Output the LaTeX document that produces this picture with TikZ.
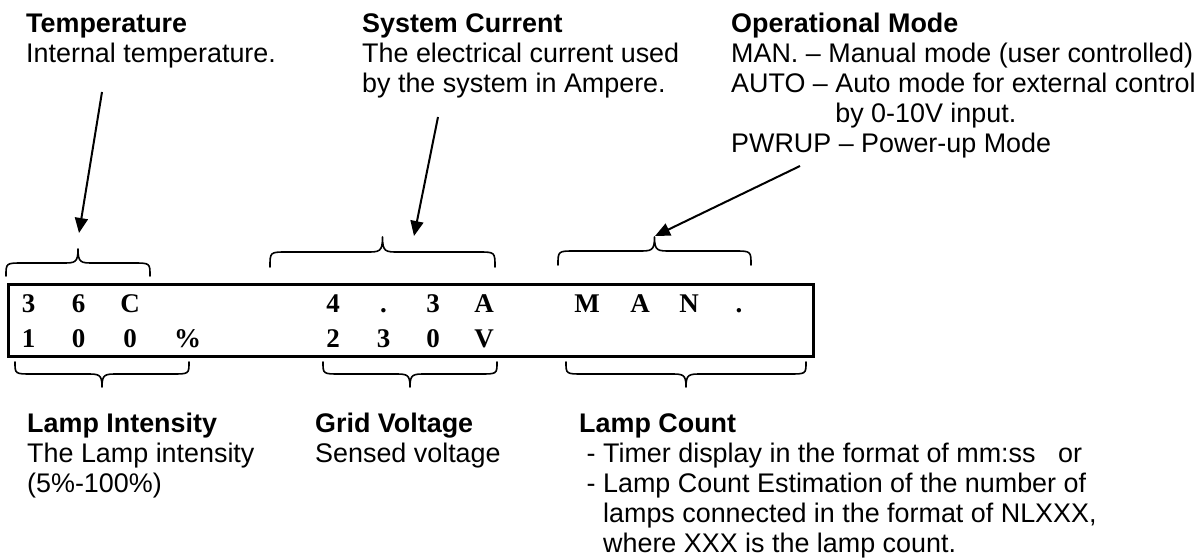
\documentclass[tikz,border=0pt]{standalone}
\usepackage{fontspec}
\setmainfont{Liberation Sans}
\newfontfamily\lcdfont{Liberation Serif}
\usetikzlibrary{arrows.meta}
\tikzset{
  lbl/.style={anchor=north west, inner sep=0pt, align=left, font=\fontsize{26.9}{30}\selectfont},
  lcd/.style={anchor=base, inner sep=0pt, font=\lcdfont\bfseries\fontsize{27}{30}\selectfont},
  brc/.style={line width=1.6pt, line join=round, line cap=round},
  pointer/.style={line width=2pt, -{Triangle[length=15pt,width=13pt]}},
  frame/.style={draw, line width=2.6pt, inner sep=0pt}
}
% x1, x2, y of ends, y of straight part, y of cusp
\newcommand\UBrace[5]{%
  \pgfmathsetmacro\bxc{(#1+#2)/2}%
  \draw[brc] (#1,#3) .. controls (#1,#4) .. (#1+17,#4) -- (\bxc-16,#4)
    .. controls (\bxc-3,#4) and (\bxc,#4) .. (\bxc,#5) .. controls (\bxc,#4) and (\bxc+3,#4) .. (\bxc+16,#4)
    -- (#2-17,#4) .. controls (#2,#4) .. (#2,#3);%
}
\begin{document}
\begin{tikzpicture}[x=1pt,y=-1pt]
\useasboundingbox (0,0) rectangle (1201,559);

% display frame
\node[frame, anchor=north west, minimum width=805pt, minimum height=72pt] (box) at (7,283) {};

% display characters
\foreach \px/\py/\ch/\nm in {28.7/312/3/ra0, 78.5/312/6/ra1, 130/312/C/ra2,
    333/312/4/ra6, 383.6/312/./ra7, 433/312/3/ra8, 484/312/A/ra9,
    587/312/M/ra11, 640/312/A/ra12, 689/312/N/ra13, 739/312/./ra14,
    28.7/347/1/rb0, 78.5/347/0/rb1, 130/347/0/rb2, 187.5/347/\%/rb3,
    333/347/2/rb6, 383.6/347/3/rb7, 433/347/0/rb8, 484/347/V/rb9}
  \node[lcd] (\nm) at (\px,\py) {\ch};

% upper labels
\node[lbl] (temp) at (26,11) {\strut\textbf{Temperature}\\Internal temperature.};
\node[lbl] (curr) at (362,11) {\strut\textbf{System Current}\\The electrical current used\\by the system in Ampere.};
\node[lbl] (mode) at (731,11) {\strut\textbf{Operational Mode}\\MAN. – Manual mode (user controlled)\\AUTO – Auto mode for external control\\\phantom{AUTO – }by 0-10V input.\\PWRUP – Power-up Mode};

% lower labels
\node[lbl] (inten) at (27,411) {\strut\textbf{Lamp Intensity}\\The Lamp intensity\\(5\%-100\%)};
\node[lbl] (grid) at (315,411) {\strut\textbf{Grid Voltage}\\Sensed voltage};
\node[lbl] (count) at (579,411) {\strut\textbf{Lamp Count}\\\hspace*{0.28em}- Timer display in the format of mm:ss\ \ \ or\\\hspace*{0.28em}- Lamp Count Estimation of the number of\\\hspace*{0.28em}\phantom{-\ }lamps connected in the format of NLXXX,\\\hspace*{0.28em}\phantom{-\ }where XXX is the lamp count.};

% braces
\UBrace{6}{150}{276}{263}{249}
\UBrace{270}{495}{267}{252}{237}
\UBrace{558}{751}{265}{251}{237}
\UBrace{15}{189}{362}{374}{387}
\UBrace{323}{497}{362}{374}{387}
\UBrace{566}{806}{362}{374}{387}

% pointers
\coordinate (t1) at (102,92);  \coordinate (h1) at (79,233);
\coordinate (t2) at (438,117); \coordinate (h2) at (414,236);
\coordinate (t3) at (800,166); \coordinate (h3) at (655,236);
\draw[pointer] (t1) -- (h1);
\draw[pointer] (t2) -- (h2);
\draw[pointer] (t3) -- (h3);
\end{tikzpicture}
\end{document}
